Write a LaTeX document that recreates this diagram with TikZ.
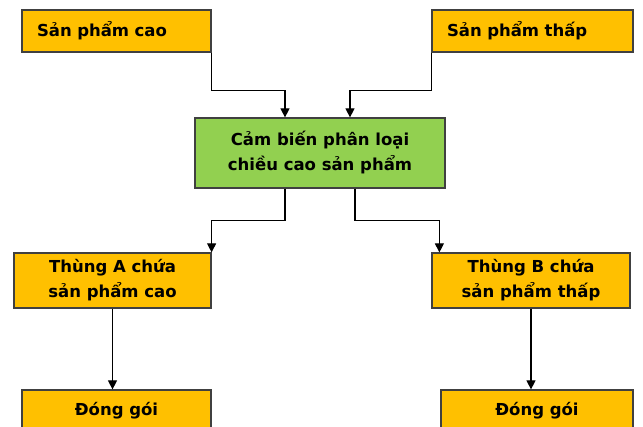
\documentclass[tikz,border=0pt]{standalone}
\usepackage{fontspec}
\setmainfont{DejaVu Sans}
\usetikzlibrary{arrows.meta}
\definecolor{boxorange}{HTML}{FFC000}
\definecolor{boxgreen}{HTML}{92D050}
\definecolor{boxline}{HTML}{404040}
\tikzset{
  box/.style={draw=boxline, line width=1.2pt, fill=boxorange, font=\fontsize{16.5}{25}\selectfont\bfseries,
    align=center, inner sep=0pt},
  sensorbox/.style={box, fill=boxgreen},
  link/.style={->, draw=black, line width=1.1pt},
  >={Triangle[length=9pt,width=9pt]}
}
\begin{document}
\begin{tikzpicture}[x=1pt,y=1pt]
  \useasboundingbox (0,0) rectangle (643,427);
  \clip (0,0) rectangle (643,427);
  \node (SC) [box, minimum width=189pt, minimum height=42pt, text width=159pt, align=left] at (116.5,396) {Sản phẩm cao\\[4pt]};
  \node (ST) [box, minimum width=201pt, minimum height=42pt, text width=171pt, align=left] at (532.5,396) {Sản phẩm thấp\\[4pt]};
  \node (CB) [sensorbox, minimum width=250pt, minimum height=70pt] at (320,274) {Cảm biến phân loại\\chiều cao sản phẩm};
  \node (TA) [box, minimum width=197pt, minimum height=55pt] at (112.5,146.5) {Thùng A chứa\\sản phẩm cao};
  \node (TB) [box, minimum width=198pt, minimum height=55pt] at (531,146.5) {Thùng B chứa\\sản phẩm thấp};
  \node (DA) [box, minimum width=189pt, minimum height=42pt] at (116.5,16) {Đóng gói};
  \node (DB) [box, minimum width=192pt, minimum height=42pt] at (537,16) {Đóng gói};
  \draw[link] (SC.south east) -- ++(0,-38) -| ([xshift=-35pt]CB.north);
  \draw[link] (ST.south west) -- ++(0,-38) -| ([xshift=30pt]CB.north);
  \draw[link] ([xshift=-35pt]CB.south) -- ++(0,-32) -| (TA.north east);
  \draw[link] ([xshift=35pt]CB.south) -- ++(0,-32) -| ([xshift=8pt]TB.north west);
  \draw[link] (TA.south) -- (TA.south |- DA.north);
  \draw[link] (TB.south) -- (TB.south |- DB.north);
\end{tikzpicture}
\end{document}
